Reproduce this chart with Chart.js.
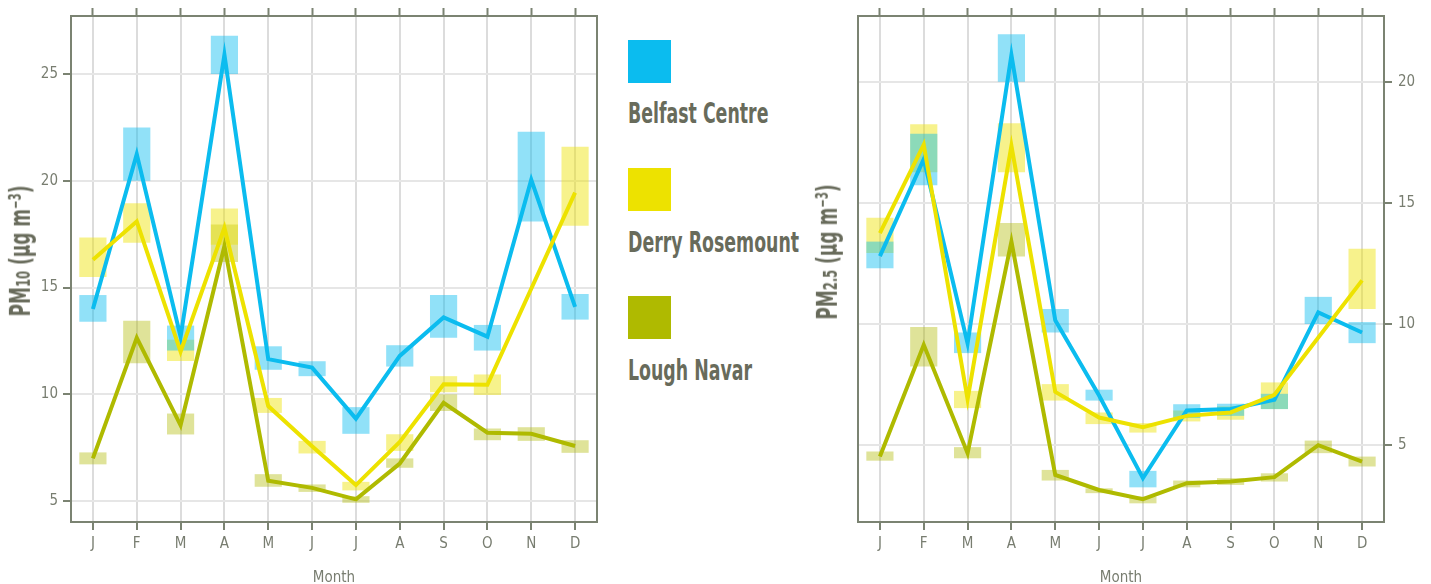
<!DOCTYPE html>
<html>
<head>
<meta charset="utf-8">
<script src="https://cdn.jsdelivr.net/npm/chart.js@4.4.0/dist/chart.umd.min.js"></script>
<style>
  html, body { margin: 0; padding: 0; background: #fff; overflow: hidden; }
  body { width: 1431px; height: 584px; position: relative; }
  canvas { position: absolute; top: 0; }
  #pm10 { left: 0; }
  #pm25 { left: 800px; }
  .swatch { position: absolute; left: 628px; width: 43px; height: 43px; }
  .name, .ytitle {
    position: absolute; white-space: nowrap; color: #686b5b;
    font-family: 'Liberation Sans Narrow', 'DejaVu Sans Condensed', sans-serif;
    font-weight: bold; line-height: 1;
  }
  .name { left: 628px; font-size: 29px; transform-origin: 0 50%; }
  .ytitle { font-size: 28px; }
  .ytitle .sub { font-size: 0.68em; }
  .ytitle sup { font-size: 0.6em; vertical-align: 0.55em; }
</style>
</head>
<body>
<canvas id="pm10" width="620" height="584"></canvas>
<canvas id="pm25" width="631" height="584"></canvas>

<div class="swatch" style="top:40px;background:#0bbcef"></div>
<div class="name" id="n1" style="top:99px">Belfast Centre</div>
<div class="swatch" style="top:168px;background:#ede200"></div>
<div class="name" id="n2" style="top:228px">Derry Rosemount</div>
<div class="swatch" style="top:296px;background:#afba00"></div>
<div class="name" id="n3" style="top:356px">Lough Navar</div>

<div class="ytitle" id="t10" style="left:21px;top:251px">PM<span class="sub">10</span> (μg m<sup>−3</sup>)</div>
<div class="ytitle" id="t25" style="left:828px;top:252px">PM<span class="sub">2.5</span> (μg m<sup>−3</sup>)</div>

<script>
const months = ['J', 'F', 'M', 'A', 'M', 'J', 'J', 'A', 'S', 'O', 'N', 'D'];
const sites = ['Belfast Centre', 'Derry Rosemount', 'Lough Navar'];

// PM10 monthly means with lower / upper bounds
const belfast10 = [14.0, 21.25, 12.7, 25.9, 11.65, 11.25, 8.86, 11.8, 13.6, 12.7, 20.05, 14.1];
const belfast10Lo = [13.4, 20.0, 12.05, 25.0, 11.15, 10.85, 8.15, 11.3, 12.65, 12.05, 18.1, 13.5];
const belfast10Hi = [14.65, 22.5, 13.22, 26.8, 12.25, 11.55, 9.4, 12.3, 14.65, 13.25, 22.3, 14.7];
const derry10 = [16.3, 18.1, 12.0, 17.8, 9.45, 7.57, 5.75, 7.77, 10.47, 10.45, null, 19.45];
const derry10Lo = [15.5, 17.1, 11.56, 17.0, 9.13, 7.23, 5.5, 7.35, 10.1, 9.97, null, 17.9];
const derry10Hi = [17.35, 18.95, 12.56, 18.7, 9.83, 7.82, 5.9, 8.13, 10.85, 10.93, null, 21.6];
const navar10 = [7.0, 12.65, 8.55, 16.95, 5.95, 5.62, 5.08, 6.76, 9.6, 8.2, 8.15, 7.58];
const navar10Lo = [6.72, 11.45, 8.12, 16.2, 5.67, 5.43, 4.92, 6.56, 9.22, 7.85, 7.82, 7.26];
const navar10Hi = [7.28, 13.45, 9.1, 17.95, 6.26, 5.78, 5.23, 7.0, 10.0, 8.4, 8.46, 7.85];

// PM2.5
const belfast25 = [12.8, 16.8, 9.2, 21.1, 10.15, 7.05, 3.64, 6.43, 6.49, 6.87, 10.48, 9.65];
const belfast25Lo = [12.3, 15.73, 8.8, 20.0, 9.65, 6.84, 3.26, 6.12, 6.21, 6.49, 10.0, 9.21];
const belfast25Hi = [13.4, 17.85, 9.65, 21.96, 10.62, 7.29, 3.94, 6.69, 6.71, 7.12, 11.12, 10.08];
const derry25 = [13.75, 17.4, 6.9, 17.35, 7.2, 6.14, 5.74, 6.21, 6.35, 7.08, null, 11.8];
const derry25Lo = [12.93, 16.26, 6.53, 16.26, 6.84, 5.87, 5.52, 5.98, 6.05, 6.49, null, 10.62];
const derry25Hi = [14.38, 18.24, 7.24, 18.28, 7.52, 6.35, 5.91, 6.43, 6.6, 7.59, null, 13.11];
const navar25 = [4.53, 9.14, 4.67, 13.4, 3.77, 3.15, 2.77, 3.43, 3.5, 3.68, 5.0, 4.32];
const navar25Lo = [4.36, 8.25, 4.46, 12.79, 3.54, 3.02, 2.6, 3.26, 3.36, 3.5, 4.67, 4.12];
const navar25Hi = [4.74, 9.88, 4.92, 14.17, 3.98, 3.22, 2.88, 3.54, 3.64, 3.84, 5.19, 4.53];

const pm10Ticks = [5, 10, 15, 20, 25];
const pm25Ticks = [5, 10, 15, 20];

const colours = ['#0bbcef', '#ede200', '#afba00'];
const fills = ['rgba(11,188,239,0.45)', 'rgba(237,226,0,0.45)', 'rgba(175,186,0,0.4)'];
const frame = '#7b8372';
const tickText = '#787d70';
const narrow = "'Liberation Sans Narrow', 'DejaVu Sans Condensed', sans-serif";

function band(i, lo, hi) {
  return {
    type: 'bar',
    label: sites[i] + ' range',
    data: lo.map((v, k) => (v == null ? null : [v, hi[k]])),
    backgroundColor: fills[i],
    borderWidth: 0,
    grouped: false,
    barPercentage: 0.62,
    categoryPercentage: 1,
    xAxisID: 'x',
    yAxisID: 'y',
    order: 10,
  };
}

function line(i, values, order) {
  return {
    type: 'line',
    label: sites[i],
    data: values,
    borderColor: colours[i],
    borderWidth: 4,
    pointRadius: 0,
    tension: 0,
    spanGaps: true,
    fill: false,
    xAxisID: 'x',
    yAxisID: 'y',
    order: order,
  };
}

function makeChart(el, series, yMin, yMax, yTicks, yRight, leftW, rightW) {
  const tickFont = { family: narrow, size: 15 };
  const valueAxis = {
    position: yRight ? 'right' : 'left',
    min: yMin,
    max: yMax,
    afterBuildTicks: (s) => { s.ticks = yTicks.map((v) => ({ value: v })); },
    grid: { color: '#e6e6e6', lineWidth: 2, tickColor: frame, tickLength: 8, tickWidth: 2 },
    border: { color: frame, width: 2 },
    ticks: { color: tickText, font: tickFont, padding: yRight ? 6 : 5 },
    afterFit: (s) => { s.width = yRight ? rightW : leftW; },
  };
  const sideAxis = {
    position: yRight ? 'left' : 'right',
    grid: { display: false },
    ticks: { display: false },
    border: { color: frame, width: 2 },
    afterFit: (s) => { s.width = yRight ? leftW : rightW; },
  };

  return new Chart(el, {
    data: {
      labels: months,
      datasets: [
        band(0, series[0][1], series[0][2]),
        band(1, series[1][1], series[1][2]),
        band(2, series[2][1], series[2][2]),
        line(2, series[2][0], 3),
        line(0, series[0][0], 2),
        line(1, series[1][0], 1),
      ],
    },
    options: {
      responsive: false,
      animation: false,
      devicePixelRatio: 1,
      layout: { padding: 0 },
      plugins: { legend: { display: false }, tooltip: { enabled: false } },
      scales: {
        x: {
          type: 'category',
          position: 'bottom',
          offset: true,
          grid: { color: '#dcdcdc', lineWidth: 2, offset: false, tickColor: frame, tickLength: 8, tickWidth: 2 },
          border: { color: frame, width: 2 },
          ticks: { color: tickText, font: tickFont, padding: 5, maxRotation: 0, autoSkip: false },
          title: { display: true, text: 'Month', color: tickText, font: { family: narrow, size: 15, lineHeight: 1 }, padding: { top: 0, bottom: -2 } },
          afterFit: (s) => { s.height = 62; },
        },
        xTop: {
          type: 'category',
          position: 'top',
          offset: true,
          grid: { drawOnChartArea: false, offset: false, tickColor: frame, tickLength: 8, tickWidth: 2 },
          border: { color: frame, width: 2 },
          ticks: { display: false },
          afterFit: (s) => { s.height = 16; },
        },
        y: valueAxis,
        ySide: sideAxis,
      },
    },
  });
}

makeChart(document.getElementById('pm10'), [
  [belfast10, belfast10Lo, belfast10Hi],
  [derry10, derry10Lo, derry10Hi],
  [navar10, navar10Lo, navar10Hi],
], 4.02, 27.72, pm10Ticks, false, 71, 23);

makeChart(document.getElementById('pm25'), [
  [belfast25, belfast25Lo, belfast25Hi],
  [derry25, derry25Lo, derry25Hi],
  [navar25, navar25Lo, navar25Hi],
], 1.83, 22.71, pm25Ticks, true, 58, 47);

// squeeze the bold labels to the condensed widths
function fitText(el, width, rotated) {
  const k = width / el.offsetWidth;
  el.style.transform = rotated
    ? 'translate(-50%, -50%) rotate(-90deg) scaleX(' + k + ')'
    : 'scaleX(' + k + ')';
}
const nameScale = 171 / document.getElementById('n2').offsetWidth;
['n1', 'n2', 'n3'].forEach((id) => {
  document.getElementById(id).style.transform = 'scaleX(' + nameScale + ')';
});
fitText(document.getElementById('t10'), 131, true);
fitText(document.getElementById('t25'), 135, true);
</script>
</body>
</html>
